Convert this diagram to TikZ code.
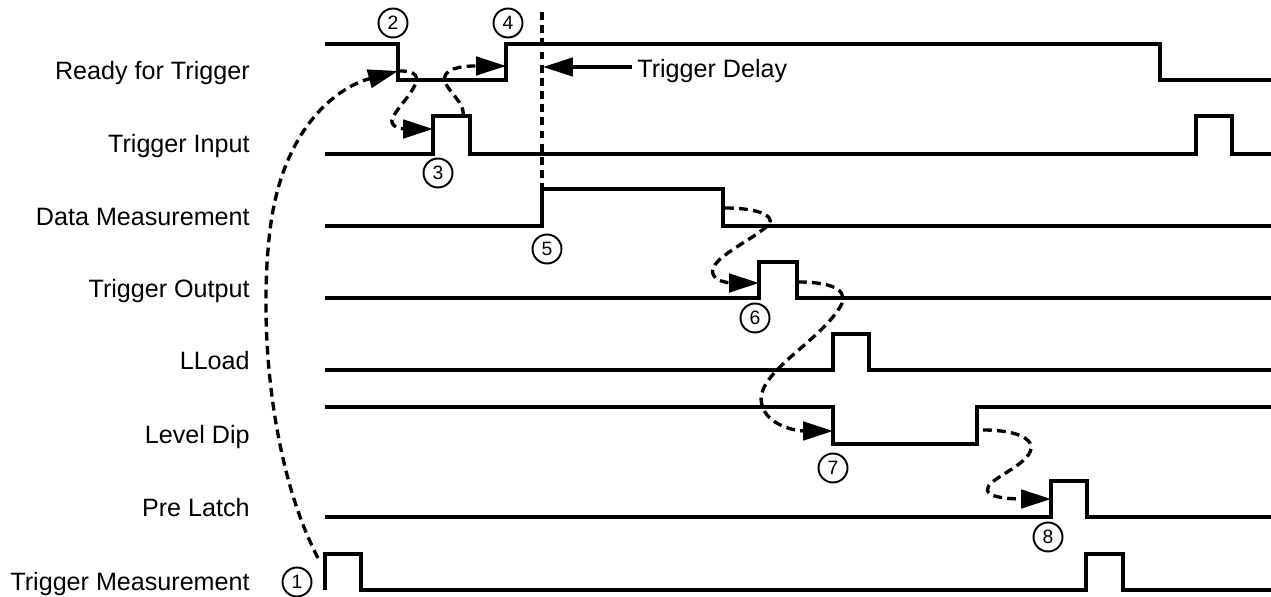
\documentclass[tikz,border=0pt]{standalone}
\usepackage{fontspec}
\setmainfont{Liberation Sans}
\usetikzlibrary{arrows.meta}

\begin{document}
\begin{tikzpicture}[x=0.02cm, y=-0.02cm,
    signal/.style={line width=2pt, line join=miter},
    link/.style={line width=1.9pt, dash pattern=on 5pt off 3pt, -{Triangle[length=17pt, width=10.5pt]}},
    num/.style={circle, draw, line width=1.1pt, minimum size=0.58cm, inner sep=0pt, font=\fontsize{11}{12}\selectfont},
    lbl/.style={anchor=base east, inner xsep=0pt, font=\fontsize{14.3}{16}\selectfont}]
    \useasboundingbox (0,0) rectangle (1271,597);

    % signal names
    \node[lbl] (rdy) at (250,80) {Ready for Trigger};
    \node[lbl] (tin) at (250,153) {Trigger Input};
    \node[lbl] (dm) at (250,226) {Data Measurement};
    \node[lbl] (tout) at (250,298) {Trigger Output};
    \node[lbl] (ll) at (250,370) {LLoad};
    \node[lbl] (ld) at (250,444) {Level Dip};
    \node[lbl] (pl) at (250,517) {Pre Latch};
    \node[lbl] (tm) at (250,590) {Trigger Measurement};

    % waveforms
    \draw[signal] (325,44) -- (398,44) -- (398,80) -- (506,80) -- (506,44) -- (1160,44) -- (1160,80) -- (1271,80);
    \draw[signal] (325,154) -- (433,154) -- (433,116) -- (470,116) -- (470,154) -- (1196,154) -- (1196,116) -- (1232,116) -- (1232,154) -- (1271,154);
    \draw[signal] (325,226) -- (542,226) -- (542,189) -- (723,189) -- (723,226) -- (1271,226);
    \draw[signal] (325,298) -- (759,298) -- (759,262) -- (797,262) -- (797,298) -- (1271,298);
    \draw[signal] (325,370) -- (833,370) -- (833,334) -- (869,334) -- (869,370) -- (1271,370);
    \draw[signal] (325,407) -- (833,407) -- (833,444) -- (977,444) -- (977,407) -- (1271,407);
    \draw[signal] (325,517) -- (1051,517) -- (1051,481) -- (1087,481) -- (1087,517) -- (1271,517);
    \draw[signal] (325,590) -- (325,554) -- (361,554) -- (361,590) -- (1086,590) -- (1086,554) -- (1123,554) -- (1123,590) -- (1271,590);

    % edge points
    \coordinate (tmStart) at (318,558);
    \coordinate (rdyFall) at (398,71);
    \coordinate (rdyRise) at (506,66);
    \coordinate (tinRise) at (433,129);
    \coordinate (tinFall) at (463,116);
    \coordinate (dmFall) at (725,208);
    \coordinate (toutRise) at (759,283);
    \coordinate (toutFall) at (798,282);
    \coordinate (ldFall) at (833,431);
    \coordinate (ldRise) at (983,430);
    \coordinate (plRise) at (1051,499);
    \coordinate (dlyTop) at (542,12);
    \coordinate (dmRise) at (542,189);
    \coordinate (dlyTip) at (543,67);

    % event numbers
    \node[num] (n1) at (297,582) {1};
    \node[num] (n2) at (393,23) {2};
    \node[num] (n3) at (438,173) {3};
    \node[num] (n4) at (508,23) {4};
    \node[num] (n5) at (547,249) {5};
    \node[num] (n6) at (755,318) {6};
    \node[num] (n7) at (833,468) {7};
    \node[num] (n8) at (1048,537) {8};

    % trigger delay
    \draw[line width=1.9pt, dash pattern=on 4.5pt off 3pt] (dlyTop) -- (dmRise);
    \node[anchor=base west, inner xsep=0pt, font=\fontsize{14.3}{16}\selectfont] (dly) at (637,78) {Trigger Delay};
    \draw[line width=1.8pt, -{Triangle[length=17pt, width=10.5pt]}] ([xshift=-3pt]dly.west |- dlyTip) -- (dlyTip);

    % causal links
    \draw[link] (tmStart) .. controls (272,470) and (258,330) .. (270,230) .. controls (282,130) and (335,88) .. (rdyFall);
    \draw[link] (rdyFall) .. controls (438,70) and (402,100) .. (393,117) .. controls (387,128) and (405,129) .. (tinRise);
    \draw[link] (tinFall) .. controls (466,100) and (438,86) .. (446,74) .. controls (452,65) and (478,66) .. (rdyRise);
    \draw[link] (dmFall) .. controls (762,208) and (780,218) .. (765,228) .. controls (745,244) and (704,262) .. (714,276) .. controls (718,283) and (735,283) .. (toutRise);
    \draw[link] (toutFall) .. controls (836,282) and (852,292) .. (838,310) .. controls (815,345) and (753,375) .. (762,405) .. controls (767,425) and (795,431) .. (ldFall);
    \draw[link] (ldRise) .. controls (1018,430) and (1042,440) .. (1026,458) .. controls (1010,474) and (978,484) .. (990,494) .. controls (998,499) and (1020,499) .. (plRise);
\end{tikzpicture}
\end{document}
